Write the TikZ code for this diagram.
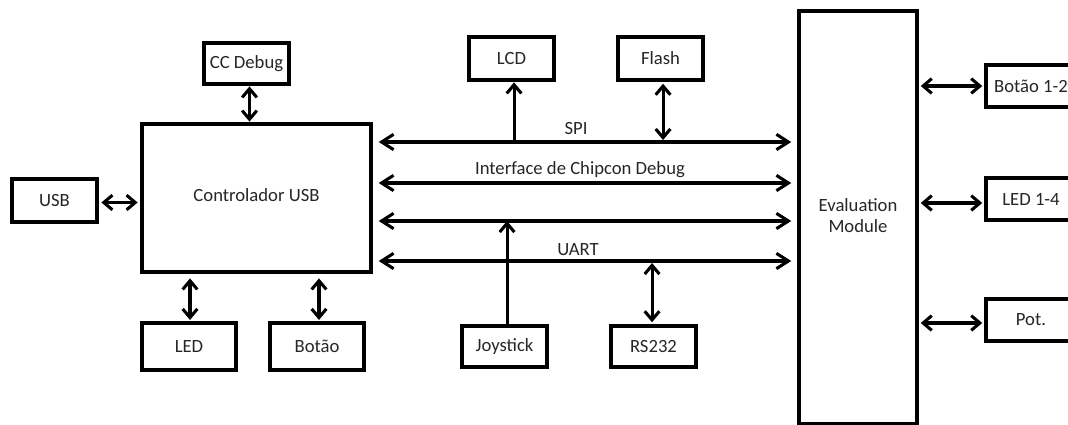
\documentclass[tikz,border=0pt]{standalone}
\usepackage{fontspec}
\setmainfont{Carlito}
\usetikzlibrary{arrows.meta}
\begin{document}
\begin{tikzpicture}[x=0.75pt,y=-0.75pt,
  box/.style={draw=black,line width=2.6pt,fill=white,inner sep=0pt,font=\fontsize{14}{16.5}\selectfont,text=black!85},
  lbl/.style={inner sep=0pt,font=\fontsize{14}{16.5}\selectfont,text=black!85},
  bus/.style={line width=2.3pt,{Straight Barb[length=9pt,width=11.5pt]}-{Straight Barb[length=9pt,width=11.5pt]}},
  dbl/.style={line width=2.3pt,{Straight Barb[length=6.5pt,width=11pt]}-{Straight Barb[length=6.5pt,width=11pt]}},
  up/.style={line width=2.3pt,-{Straight Barb[length=6.5pt,width=11pt]}}
]
\useasboundingbox (0,0) rectangle (1068,425);
\begin{scope}
\clip (0,0) rectangle (1068,425);
% nodes
\node[box,minimum width=85*0.75pt,minimum height=41*0.75pt] (ccd) at (246.5,63.5) {CC Debug};
\node[box,minimum width=229*0.75pt,minimum height=148*0.75pt] (ctrl) at (256.5,198) {\raisebox{4pt}{Controlador USB}};
\node[box,minimum width=85*0.75pt,minimum height=43*0.75pt] (usb) at (54.5,200.5) {USB};
\node[box,minimum width=94*0.75pt,minimum height=47*0.75pt] (led) at (189,346.5) {LED};
\node[box,minimum width=94*0.75pt,minimum height=47*0.75pt] (botao) at (317,346.5) {Botão};
\node[box,minimum width=85*0.75pt,minimum height=43*0.75pt] (lcd) at (511.5,58.5) {LCD};
\node[box,minimum width=85*0.75pt,minimum height=43*0.75pt] (flash) at (660.5,58.5) {Flash};
\node[box,minimum width=85*0.75pt,minimum height=41*0.75pt] (joy) at (504.5,346.5) {Joystick};
\node[box,minimum width=85*0.75pt,minimum height=41*0.75pt] (rs) at (653.5,346.5) {RS232};
\node[box,minimum width=118*0.75pt,minimum height=413*0.75pt,align=center] (em) at (858,217.5) {\raisebox{7pt}{\begin{tabular}{@{}c@{}}Evaluation\\[-1pt]Module\end{tabular}}};
\node[box,minimum width=90*0.75pt,minimum height=42*0.75pt] (b12) at (1031,86) {Botão 1-2};
\node[box,minimum width=90*0.75pt,minimum height=42*0.75pt] (l14) at (1031,199) {LED 1-4};
\node[box,minimum width=90*0.75pt,minimum height=42*0.75pt] (pot) at (1031,320) {Pot.};
% bus labels
\node[lbl] (spi) at (576,129) {SPI};
\node[lbl] (icd) at (580,170) {Interface de Chipcon Debug};
\node[lbl] (uart) at (578,250) {UART};
% bus coordinates
\coordinate (b1) at (0,142);
\coordinate (b2) at (0,183);
\coordinate (b3) at (0,221);
\coordinate (b4) at (0,261);
% buses
\draw[bus,shorten <=4.5pt,shorten >=4.5pt] (ctrl.east |- b1) -- (em.west |- b1);
\draw[bus,shorten <=4.5pt,shorten >=4.5pt] (ctrl.east |- b2) -- (em.west |- b2);
\draw[bus,shorten <=4.5pt,shorten >=4.5pt] (ctrl.east |- b3) -- (em.west |- b3);
\draw[bus,shorten <=4.5pt,shorten >=4.5pt] (ctrl.east |- b4) -- (em.west |- b4);
% vertical connectors
\draw[dbl,shorten <=0.5pt,shorten >=0.5pt] ([xshift=2.25pt]ccd.south) -- ([xshift=2.25pt]ctrl.north -| ccd.south);
\draw[dbl,shorten <=2pt,shorten >=2pt] ([yshift=-1.5pt]usb.east) -- ([yshift=-1.5pt]usb.east -| ctrl.west);
\draw[dbl,shorten <=3.5pt,shorten >=1pt] ([xshift=0.75pt]led.north |- ctrl.south) -- ([xshift=0.75pt]led.north);
\draw[dbl,shorten <=3.5pt,shorten >=1pt] ([xshift=1.5pt]botao.north |- ctrl.south) -- ([xshift=1.5pt]botao.north);
\draw[up,shorten >=0.5pt] ([xshift=1.9pt]lcd.south |- b1) -- ([xshift=1.9pt]lcd.south);
\draw[dbl,shorten <=1.5pt,shorten >=1.5pt] ([xshift=1.9pt]flash.south) -- ([xshift=1.9pt]flash.south |- b1);
\draw[up] ([xshift=1.9pt]joy.north) -- ([xshift=1.9pt]joy.north |- b3);
\draw[dbl,shorten <=1.5pt,shorten >=1.5pt] ([xshift=-1.1pt]rs.north |- b4) -- ([xshift=-1.1pt]rs.north);
\draw[dbl,shorten <=1.5pt,shorten >=1.5pt] (em.east |- b12.west) -- (b12.west);
\draw[dbl,shorten <=1.5pt,shorten >=1.5pt] ([yshift=-3pt]em.east |- l14.west) -- ([yshift=-3pt]l14.west);
\draw[dbl,shorten <=1.5pt,shorten >=1.5pt] ([yshift=-2.25pt]em.east |- pot.west) -- ([yshift=-2.25pt]pot.west);
\end{scope}
\end{tikzpicture}
\end{document}
